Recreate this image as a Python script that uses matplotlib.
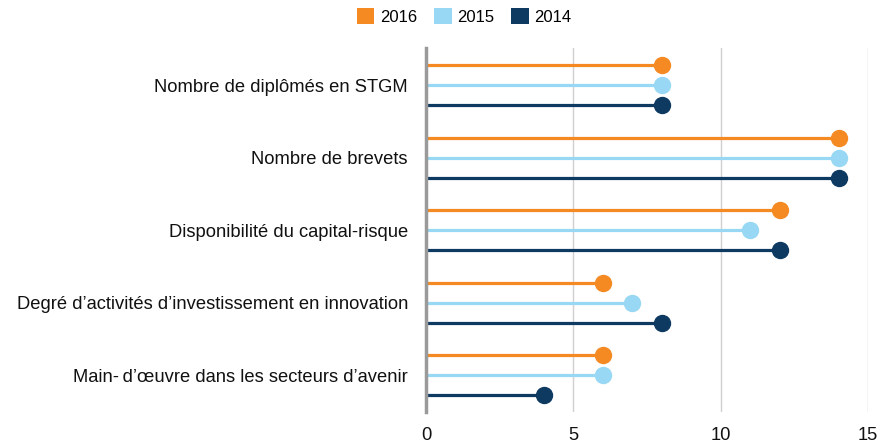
import matplotlib.pyplot as plt
from matplotlib.patches import Patch

plt.rcParams['font.family'] = ['Liberation Sans', 'DejaVu Sans']

categories = [
    "Nombre de diplômés en STGM",
    "Nombre de brevets",
    "Disponibilité du capital-risque",
    "Degré d\u2019activités d\u2019investissement en innovation",
    "Main-\u2009d\u2019œuvre dans les secteurs d\u2019avenir",
]
series_names = ["2016", "2015", "2014"]
values_2016 = [8, 14, 12, 6, 6]
values_2015 = [8, 14, 11, 7, 6]
values_2014 = [8, 14, 12, 8, 4]
colors = ["#F58A23", "#98D8F4", "#0E3A61"]


def main():
    fig = plt.figure(figsize=(8.86, 4.46), dpi=100)
    ax = fig.add_axes([0.4808, 0.0762, 0.4989, 0.8158])

    n = len(categories)
    base = [n - 1 - i for i in range(n)]
    offsets = [0.276, 0.0, -0.276]
    all_values = [values_2016, values_2015, values_2014]

    for vals, off, color in zip(all_values, offsets, colors):
        for b, v in zip(base, vals):
            y = b + off
            ax.plot([0, v], [y, y], color=color, lw=2.3, solid_capstyle='butt', zorder=3)
            ax.plot(v, y, 'o', color=color, markersize=11.5, zorder=4)

    ax.set_xlim(0, 15)
    ax.set_ylim(-0.51, n - 1 + 0.51)
    ax.set_xticks([0, 5, 10, 15])
    ax.set_yticks(base)
    ax.set_yticklabels(categories)
    ax.tick_params(axis='both', length=0, labelsize=13.2, colors='#111111')
    ax.tick_params(axis='x', pad=11)
    ax.tick_params(axis='y', pad=13)

    ax.grid(axis='x', color='#d0d0d0', lw=1)
    ax.set_axisbelow(True)
    for side in ['top', 'right', 'bottom']:
        ax.spines[side].set_visible(False)
    ax.spines['left'].set_color('#9a9a9a')
    ax.spines['left'].set_linewidth(2.5)
    ax.spines['left'].set_zorder(5)

    handles = [Patch(facecolor=c, edgecolor='none', label=s) for s, c in zip(series_names, colors)]
    fig.legend(handles=handles, loc='upper center', bbox_to_anchor=(0.524, 1.015),
               ncol=3, frameon=False, fontsize=12, handlelength=1.05, handleheight=1.05,
               handletextpad=0.35, columnspacing=1.0)

    fig.savefig('out.png', dpi=100)


if __name__ == '__main__':
    main()
